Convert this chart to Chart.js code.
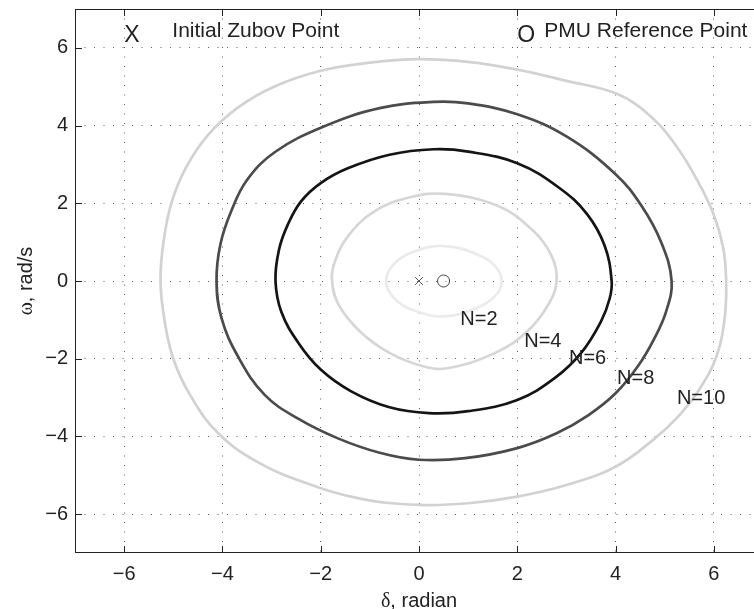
<!DOCTYPE html>
<html>
<head>
<meta charset="utf-8">
<script src="https://cdn.jsdelivr.net/npm/chart.js@4.4.0/dist/chart.umd.min.js"></script>
<style>
  html, body { margin: 0; padding: 0; background: #fff; overflow: hidden; }
  #wrap { width: 754px; height: 609px; overflow: hidden; }
</style>
</head>
<body>
<div id="wrap"><canvas id="zubov" width="763" height="609"></canvas></div>
<script>
const xTicks = [-6, -4, -2, 0, 2, 4, 6];
const yTicks = [-6, -4, -2, 0, 2, 4, 6];

// level curves, traced anticlockwise starting on the positive delta side
// (each one is closed back to its first point when drawn)
const curveN10 = [
  [6.25, 0], [6.19, 0.85], [6.0, 1.7], [5.68, 2.55], [5.22, 3.5], [4.66, 4.3], [4.0, 4.83],
  [3.0, 5.15], [2.0, 5.44], [1.0, 5.64], [0.0, 5.71], [-1.0, 5.62], [-2.0, 5.41], [-2.95, 5.0],
  [-3.7, 4.45], [-4.3, 3.75], [-4.75, 2.9], [-5.04, 2.0], [-5.2, 1.0], [-5.26, 0], [-5.18, -1.0],
  [-5.0, -2.0], [-4.66, -2.93], [-4.1, -3.9], [-3.3, -4.65], [-2.3, -5.2], [-1.2, -5.6],
  [0.0, -5.76], [1.0, -5.72], [2.0, -5.55], [3.0, -5.25], [4.0, -4.78], [4.8, -4.05],
  [5.3, -3.45], [5.7, -2.8], [6.05, -1.95], [6.22, -0.95]
];
const curveN8 = [
  [5.14, 0], [4.93, 0.99], [4.53, 1.93], [4.0, 2.75], [3.0, 3.72], [2.0, 4.29], [1.0, 4.57],
  [0.3, 4.61], [-0.8, 4.45], [-1.95, 3.97], [-2.93, 3.32], [-3.5, 2.6], [-3.82, 1.8],
  [-4.04, 0.95], [-4.12, 0], [-4.02, -0.95], [-3.68, -1.95], [-3.14, -2.93], [-2.45, -3.55],
  [-1.65, -4.05], [-0.8, -4.42], [0.0, -4.6], [0.94, -4.56], [2.0, -4.3], [2.8, -3.92],
  [3.45, -3.45], [4.0, -2.89], [4.45, -2.2], [4.78, -1.5], [5.03, -0.78]
];
const curveN6 = [
  [3.92, 0], [3.78, 0.9], [3.42, 1.72], [2.85, 2.4], [2.0, 3.03], [1.0, 3.33], [0.3, 3.39],
  [-0.6, 3.25], [-1.45, 2.9], [-2.0, 2.52], [-2.4, 2.05], [-2.67, 1.45], [-2.85, 0.8],
  [-2.92, 0], [-2.8, -0.8], [-2.45, -1.6], [-2.0, -2.28], [-1.38, -2.84], [-0.6, -3.25],
  [0.2, -3.4], [1.0, -3.35], [2.0, -3.06], [2.76, -2.5], [3.3, -1.85], [3.7, -1.05],
  [3.88, -0.45]
];
const curveN4 = [
  [2.8, 0], [2.7, 0.64], [2.29, 1.33], [1.61, 1.93], [0.53, 2.24], [-0.2, 2.15], [-0.9, 1.8],
  [-1.44, 1.16], [-1.72, 0.47], [-1.77, 0], [-1.64, -0.6], [-1.2, -1.3], [-0.6, -1.85],
  [0.1, -2.2], [0.6, -2.24], [1.55, -1.85], [2.2, -1.3], [2.63, -0.61]
];
const curveN2 = [
  [1.68, 0], [1.58, 0.34], [1.25, 0.65], [0.53, 0.9], [-0.1, 0.76], [-0.5, 0.45], [-0.67, 0],
  [-0.5, -0.45], [-0.1, -0.76], [0.53, -0.91], [1.25, -0.65], [1.58, -0.34]
];

const initialPoint = [[0, 0]];
const pmuPoint = [[0.5, 0]];

const curveLabelText = ['N=2', 'N=4', 'N=6', 'N=8', 'N=10'];
const curveLabelX = [1.22, 2.52, 3.43, 4.41, 5.74];
const curveLabelY = [-1.0, -1.55, -2.0, -2.5, -3.02];

const SANS = '"Liberation Sans", Arial, Helvetica, sans-serif';
const SERIF = '"Liberation Serif", "DejaVu Serif", serif';
const INK = '#222';

const toXY = pts => pts.map(p => ({ x: p[0], y: p[1] }));
const minus = v => (v < 0 ? '\u2212' + Math.abs(v) : String(v));

function contour(pts, color) {
  return {
    data: toXY(pts),
    showLine: true,
    closed: true,
    borderColor: color,
    borderWidth: 2.7,
    pointRadius: 0,
    fill: false,
    tension: 0.4
  };
}

// make the contour lines wrap around like a radar line does
const closeLoops = {
  id: 'closeLoops',
  afterDatasetsUpdate(chart) {
    chart.data.datasets.forEach((ds, i) => {
      if (!ds.closed) return;
      const line = chart.getDatasetMeta(i).dataset;
      if (line) { line._loop = true; line._fullLoop = true; }
    });
  }
};

// box, inward ticks, curve labels, annotations and axis titles
const decorations = {
  id: 'decorations',
  afterDatasetsDraw(chart) {
    const { ctx, chartArea: a, scales: { x, y } } = chart;
    ctx.save();

    // N= labels
    ctx.fillStyle = INK;
    ctx.font = '20px ' + SANS;
    ctx.textAlign = 'center';
    ctx.textBaseline = 'middle';
    curveLabelText.forEach((t, i) => {
      ctx.fillText(t, x.getPixelForValue(curveLabelX[i]), y.getPixelForValue(curveLabelY[i]));
    });

    // notes across the top
    ctx.textAlign = 'left';
    ctx.textBaseline = 'alphabetic';
    ctx.font = '23px ' + SANS;
    ctx.fillText('X', x.getPixelForValue(-6), y.getPixelForValue(6.16));
    ctx.fillText('O', x.getPixelForValue(2.0), y.getPixelForValue(6.16));
    ctx.font = '21px ' + SANS;
    ctx.fillText('Initial Zubov Point', x.getPixelForValue(-5.02), y.getPixelForValue(6.29));
    ctx.fillText('PMU Reference Point', x.getPixelForValue(2.55), y.getPixelForValue(6.29));

    // axes box
    ctx.strokeStyle = INK;
    ctx.lineWidth = 1;
    ctx.strokeRect(a.left + 0.5, a.top + 0.5, a.right - a.left - 1, a.bottom - a.top - 1);

    // tick marks pointing into the plot
    const len = 7;
    ctx.beginPath();
    xTicks.forEach(v => {
      const px = Math.round(x.getPixelForValue(v)) + 0.5;
      ctx.moveTo(px, a.bottom); ctx.lineTo(px, a.bottom - len);
      ctx.moveTo(px, a.top); ctx.lineTo(px, a.top + len);
    });
    yTicks.forEach(v => {
      const py = Math.round(y.getPixelForValue(v)) + 0.5;
      ctx.moveTo(a.left, py); ctx.lineTo(a.left + len, py);
      ctx.moveTo(a.right, py); ctx.lineTo(a.right - len, py);
    });
    ctx.stroke();
    ctx.restore();
  },
  afterDraw(chart) {
    const { ctx, chartArea: a, scales: { x } } = chart;
    ctx.save();
    ctx.fillStyle = INK;
    ctx.textBaseline = 'alphabetic';
    ctx.textAlign = 'left';

    const drawMixed = (greek, rest, cx, cy) => {
      ctx.font = '20px ' + SERIF;
      const gw = ctx.measureText(greek).width;
      ctx.font = '20px ' + SANS;
      const rw = ctx.measureText(rest).width;
      const start = cx - (gw + rw) / 2;
      ctx.font = '20px ' + SERIF;
      ctx.fillText(greek, start, cy);
      ctx.font = '20px ' + SANS;
      ctx.fillText(rest, start + gw, cy);
    };

    // x title
    drawMixed('\u03b4', ', radian', x.getPixelForValue(0), 607);

    // y title, rotated
    ctx.translate(32, (a.top + a.bottom) / 2);
    ctx.rotate(-Math.PI / 2);
    drawMixed('\u03c9', ', rad/s', 0, 0);
    ctx.restore();
  }
};

new Chart(document.getElementById('zubov'), {
  type: 'scatter',
  data: {
    datasets: [
      contour(curveN10, '#d2d2d2'),
      contour(curveN8, '#4b4b4b'),
      contour(curveN6, '#141414'),
      contour(curveN4, '#d6d6d6'),
      contour(curveN2, '#ebebeb'),
      {
        data: toXY(initialPoint),
        pointStyle: 'crossRot',
        pointRadius: 5.5,
        borderColor: '#555',
        borderWidth: 1
      },
      {
        data: toXY(pmuPoint),
        pointStyle: 'circle',
        pointRadius: 6,
        borderColor: '#444',
        backgroundColor: 'rgba(0,0,0,0)',
        borderWidth: 1
      }
    ]
  },
  options: {
    responsive: false,
    animation: false,
    events: [],
    layout: { autoPadding: false, padding: { top: 9, right: 0, left: 0, bottom: 0 } },
    plugins: {
      legend: { display: false },
      tooltip: { enabled: false }
    },
    scales: {
      x: {
        type: 'linear',
        min: -7,
        max: 7,
        afterBuildTicks: s => { s.ticks = xTicks.map(v => ({ value: v })); },
        afterFit: s => { s.height = 56; s.paddingLeft = 0; s.paddingRight = 0; },
        grid: { color: 'rgba(40,40,40,0.75)', lineWidth: 1, drawTicks: false },
        border: { display: false, dash: [1, 8.5] },
        ticks: {
          padding: 9,
          color: INK,
          maxRotation: 0,
          autoSkip: false,
          font: { family: SANS, size: 20 },
          callback: v => minus(v)
        }
      },
      y: {
        type: 'linear',
        min: -7,
        max: 7,
        afterBuildTicks: s => { s.ticks = yTicks.map(v => ({ value: v })); },
        afterFit: s => { s.width = 75; s.paddingTop = 0; s.paddingBottom = 0; },
        grid: { color: 'rgba(40,40,40,0.75)', lineWidth: 1, drawTicks: false },
        border: { display: false, dash: [1, 8.5] },
        ticks: {
          padding: 7,
          color: INK,
          autoSkip: false,
          font: { family: SANS, size: 20 },
          callback: v => minus(v)
        }
      }
    }
  },
  plugins: [closeLoops, decorations]
});
</script>
</body>
</html>
